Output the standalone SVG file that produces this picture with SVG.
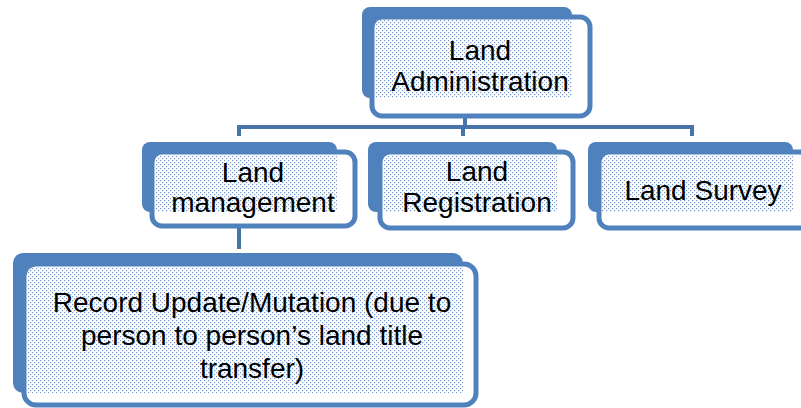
<svg xmlns="http://www.w3.org/2000/svg" width="801" height="408" viewBox="0 0 801 408">
<defs>
<pattern id="dots" width="4" height="4" patternUnits="userSpaceOnUse">
<rect x="0" y="0" width="1.2" height="1.2" fill="#7498cb"/>
<rect x="2" y="2" width="1.2" height="1.2" fill="#7498cb"/>
</pattern>
</defs>
<style>
.back{fill:#4f81bd}
.front{fill:#fff;stroke:#4f81bd;stroke-width:5}
.dot{fill:url(#dots)}
.conn{stroke:#4774aa;stroke-width:4;fill:none}
text{font-family:"Liberation Sans",Arial,sans-serif;font-size:28px;fill:#000;text-anchor:middle}
</style>
<g id="connectors">
<path class="conn" d="M465,118 V127 M237,127 H694 M239,125 V136 M463,125 V136 M692,125 V136"/>
<path class="conn" d="M239,228 V249"/>
</g>
<g id="node-admin">
<rect class="back" x="362" y="7" width="210" height="91" rx="8"/>
<rect class="front" x="372" y="17" width="218" height="99" rx="10"/>
<rect class="dot" x="375" y="20" width="197" height="78"/>
<text x="480" y="60">Land</text>
<text x="480" y="91">Administration</text>
</g>
<g id="node-management">
<rect class="back" x="142" y="142" width="195" height="70" rx="8"/>
<rect class="front" x="152" y="152" width="203" height="74" rx="10"/>
<rect class="dot" x="155" y="155" width="182" height="57"/>
<text x="253" y="182">Land</text>
<text x="253" y="212">management</text>
</g>
<g id="node-registration">
<rect class="back" x="368" y="142" width="189" height="70" rx="8"/>
<rect class="front" x="380" y="152" width="193" height="76" rx="10"/>
<rect class="dot" x="383" y="155" width="174" height="57"/>
<text x="477" y="181">Land</text>
<text x="477" y="212">Registration</text>
</g>
<g id="node-survey">
<rect class="back" x="588" y="142" width="205" height="70" rx="8"/>
<rect class="front" x="599" y="152" width="213" height="76" rx="10"/>
<rect class="dot" x="602" y="155" width="191" height="57"/>
<text x="703" y="200">Land Survey</text>
</g>
<g id="node-record">
<rect class="back" x="13" y="253" width="450" height="140" rx="10"/>
<rect class="front" x="24" y="264" width="452" height="141" rx="12"/>
<rect class="dot" x="27" y="267" width="436" height="126"/>
<text x="252" y="312">Record Update/Mutation (due to</text>
<text x="252" y="345">person to person’s land title</text>
<text x="252" y="378">transfer)</text>
</g>
</svg>
